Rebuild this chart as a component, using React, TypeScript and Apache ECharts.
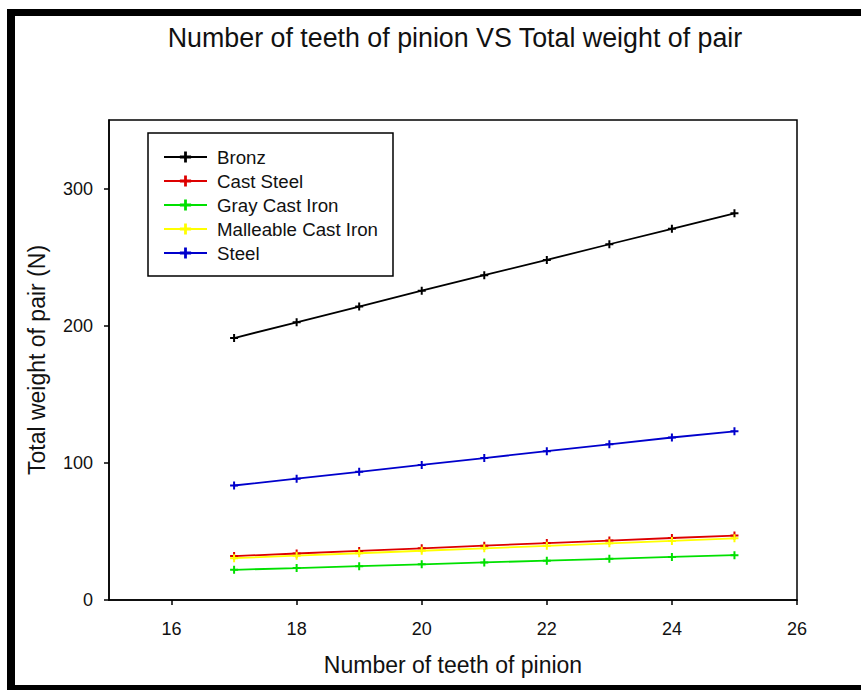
import React, { useEffect, useRef } from "react";
import * as echarts from "echarts";

const teeth = [17, 18, 19, 20, 21, 22, 23, 24, 25];
const bronz = [191, 202.5, 214, 225.5, 236.8, 248, 259.4, 270.7, 282];
const castSteel = [32, 33.9, 35.8, 37.7, 39.6, 41.5, 43.3, 45.2, 47];
const grayCastIron = [22, 23.3, 24.7, 26, 27.4, 28.7, 30, 31.4, 32.7];
const malleableCastIron = [30.5, 32.3, 34.1, 35.9, 37.7, 39.5, 41.3, 43.1, 45];
const steel = [83.5, 88.5, 93.5, 98.5, 103.5, 108.5, 113.5, 118.5, 123];
const xTicks = [16, 18, 20, 22, 24, 26];
const yTicks = [0, 100, 200, 300];

const seriesDefs = [
  { name: "Bronz", data: bronz, color: "#000000" },
  { name: "Cast Steel", data: castSteel, color: "#dd0000" },
  { name: "Gray Cast Iron", data: grayCastIron, color: "#00e000" },
  { name: "Malleable Cast Iron", data: malleableCastIron, color: "#ffff00" },
  { name: "Steel", data: steel, color: "#0000cc" },
];

const PLUS = "path://M3,0H5V3H8V5H5V8H3V5H0V3H3Z";
const FONT = "Liberation Sans, Arial, sans-serif";

export default function App() {
  const ref = useRef<HTMLDivElement>(null);
  useEffect(() => {
    const chart = echarts.init(ref.current!, undefined, { renderer: "svg" });
    chart.setOption({
      animation: false,
      backgroundColor: "#ffffff",
      textStyle: { fontFamily: FONT },
      title: {
        text: "Number of teeth of pinion VS Total weight of pair",
        left: 450,
        textAlign: "center",
        top: 19,
        textStyle: { fontSize: 26.8, fontWeight: "normal", color: "#111", fontFamily: FONT },
      },
      grid: {
        left: 109,
        right: 64,
        top: 120,
        bottom: 90,
        show: true,
        borderColor: "#000",
        borderWidth: 1.5,
        backgroundColor: "transparent",
      },
      legend: {
        left: 148,
        top: 133,
        orient: "vertical",
        backgroundColor: "#fff",
        borderColor: "#000",
        borderWidth: 1.5,
        borderRadius: 0,
        padding: [14, 15, 13, 15],
        itemWidth: 43,
        itemHeight: 14,
        itemGap: 4,
        textStyle: { fontSize: 18.7, lineHeight: 20, color: "#111", fontFamily: FONT, padding: [0, 0, 0, 5] },
        data: seriesDefs.map((s) => s.name),
      },
      xAxis: {
        type: "value",
        min: 15,
        max: 26,
        name: "Number of teeth of pinion",
        nameLocation: "middle",
        nameGap: 53,
        nameTextStyle: { fontSize: 23, color: "#111", fontFamily: FONT },
        axisLine: { onZero: false, lineStyle: { color: "#000", width: 1.5 } },
        axisTick: { show: true, length: 5, lineStyle: { color: "#000", width: 1.5 }, customValues: xTicks },
        axisLabel: { fontSize: 18, color: "#111", margin: 20, customValues: xTicks, fontFamily: FONT },
        splitLine: { show: false },
      },
      yAxis: {
        type: "value",
        min: 0,
        max: 350,
        name: "Total weight of pair (N)",
        nameLocation: "middle",
        nameGap: 61,
        nameTextStyle: { fontSize: 23, color: "#111", fontFamily: FONT },
        axisLine: { show: true, onZero: false, lineStyle: { color: "#000", width: 1.5 } },
        axisTick: { show: true, length: 5, lineStyle: { color: "#000", width: 1.5 }, customValues: yTicks },
        axisLabel: { fontSize: 18, color: "#111", margin: 16, customValues: yTicks, fontFamily: FONT },
        splitLine: { show: false },
      },
      series: seriesDefs.map((s) => ({
        name: s.name,
        type: "line",
        data: teeth.map((t, i) => [t, s.data[i]]),
        symbol: PLUS,
        symbolSize: 8,
        showAllSymbol: true,
        lineStyle: { color: s.color, width: 1.8 },
        itemStyle: { color: s.color, borderWidth: 0 },
        emphasis: { disabled: true },
      })),
      graphic: [
        { type: "rect", shape: { x: 7, y: 9, width: 854, height: 7 }, style: { fill: "#000" }, silent: true },
        { type: "rect", shape: { x: 7, y: 9, width: 8, height: 681 }, style: { fill: "#000" }, silent: true },
        { type: "rect", shape: { x: 7, y: 685, width: 854, height: 5 }, style: { fill: "#000" }, silent: true },
      ],
    });
    return () => chart.dispose();
  }, []);
  return (
    <div
      ref={ref}
      style={{ position: "fixed", left: 0, top: 0, width: 861, height: 690 }}
    />
  );
}
